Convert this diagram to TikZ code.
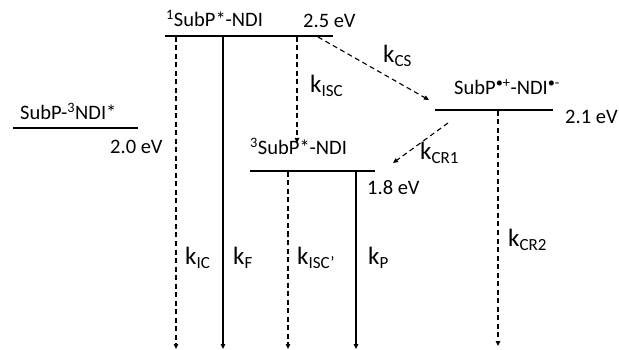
\documentclass[tikz,border=0pt]{standalone}
\usepackage{fontspec}
\setmainfont{Carlito}
\usetikzlibrary{arrows.meta,positioning}
\newcommand{\rate}[1]{k\raisebox{-0.3ex}{\fontsize{17}{17}\selectfont #1}}

\begin{document}
\begin{tikzpicture}[x=1pt,y=-1pt,
  level/.style={line width=2.8pt},
  state/.style={font=\fontsize{20.5}{22}\selectfont,inner sep=0pt,anchor=base west},
  lab/.style={font=\fontsize{25}{27}\selectfont,inner sep=0pt,anchor=base west},
  trans/.style={-{Triangle[length=5pt,width=4.5pt]},line width=1.1pt},
  nonrad/.style={trans,dash pattern=on 5pt off 3.5pt}]
\useasboundingbox (0,0) rectangle (619,350);
% energy levels
\draw[level] (165,36) coordinate (s1a) -- (333,36) coordinate (s1b);
\draw[level] (435,110) coordinate (cta) -- (553,110) coordinate (ctb);
\draw[level] (13,128) coordinate (tna) -- (138,128) coordinate (tnb);
\draw[level] (250,171) coordinate (t1a) -- (375,171) coordinate (t1b);
% state names and energies
\node[state] (s1) at (166,27) {\textsuperscript{1}SubP*-NDI};
\node[state] (s1e) at (303,28) {2.5 eV};
\node[state] (ct) at (454,95) {SubP\textsuperscript{\textbullet+}-NDI\textsuperscript{\textbullet-}};
\node[state] (cte) at (565,124) {2.1 eV};
\node[state] (tn) at (20,120) {SubP-\textsuperscript{3}NDI*};
\node[state] (tne) at (110,154) {2.0 eV};
\node[state] (t1) at (250,155) {\textsuperscript{3}SubP*-NDI};
\node[state] (t1e) at (367,195) {1.8 eV};
% end points of the transitions
\coordinate (ic0) at (176,37);  \coordinate (ic1) at (176,349);
\coordinate (f0) at (223,37);   \coordinate (f1) at (223,349);
\coordinate (isc0) at (297,37); \coordinate (isc1) at (297,143);
\coordinate (cs0) at (318,37);  \coordinate (cs1) at (429,100);
\coordinate (cr0) at (448,123); \coordinate (cr1) at (393,163);
\coordinate (iscb0) at (288,172); \coordinate (iscb1) at (288,349);
\coordinate (p0) at (356,172);  \coordinate (p1) at (356,349);
\coordinate (crb0) at (498,111); \coordinate (crb1) at (498,346);
% transitions
\draw[nonrad] (ic0) -- (ic1);
\draw[trans] (f0) -- (f1);
\draw[nonrad] (isc0) -- (isc1);
\draw[nonrad] (cs0) -- (cs1);
\draw[nonrad] (cr0) -- (cr1);
\draw[nonrad] (iscb0) -- (iscb1);
\draw[trans] (p0) -- (p1);
\draw[nonrad] (crb0) -- (crb1);
% rate constants
\node[lab] (kic) at (185,265) {\rate{IC}};
\node[lab] (kf) at (233,265) {\rate{F}};
\node[lab] (kiscb) at (297,265) {\rate{ISC’}};
\node[lab] (kp) at (368,265) {\rate{P}};
\node[lab] (kcrb) at (508,247) {\rate{CR2}};
\node[lab] (kisc) at (310,93) {\rate{ISC}};
\node[lab] (kcs) at (383,63) {\rate{CS}};
\node[lab] (kcr) at (420,160) {\rate{CR1}};
\end{tikzpicture}
\end{document}
